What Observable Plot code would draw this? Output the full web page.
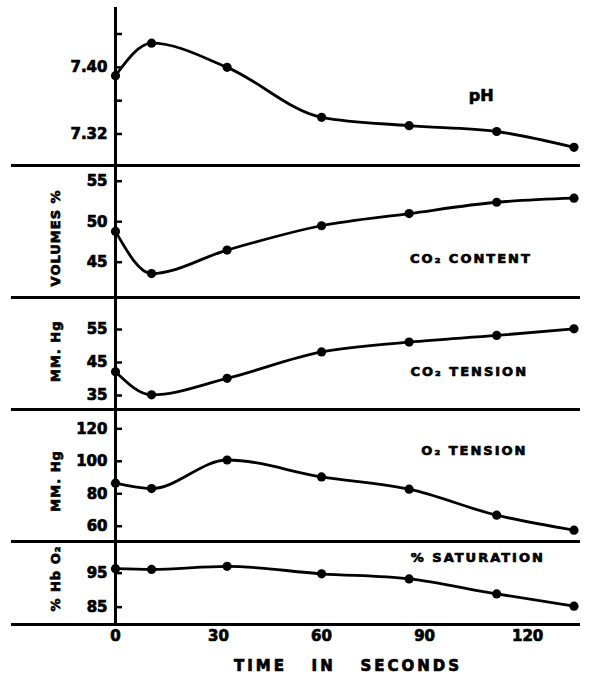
<!DOCTYPE html>
<html><head><meta charset="utf-8">
<script src="https://cdn.jsdelivr.net/npm/d3@7"></script>
<script src="https://cdn.jsdelivr.net/npm/@observablehq/plot@0.6"></script>
<style>
body{margin:0;background:#fff;}
#chart{width:592px;}
#chart svg{display:block;overflow:visible;background:none;}
#chart text{stroke:black;stroke-width:0.7px;}
</style></head><body><div id="chart"></div>
<script>
// Time points (seconds)
const times = [0, 10.5, 32.5, 60, 85.5, 111, 133.5];
// Series values
const ph = [7.39, 7.429, 7.400, 7.340, 7.330, 7.323, 7.304];
const co2Content = [48.8, 43.6, 46.5, 49.5, 51.0, 52.4, 52.9];
const co2Tension = [42.2, 35.2, 40.2, 48.2, 51.2, 53.2, 55.2];
const o2Tension = [86.5, 83.2, 100.8, 90.4, 82.8, 66.8, 57.6];
const saturation = [96.3, 96.1, 97.0, 94.8, 93.3, 88.9, 85.3];
// Ticks and labels
const timeTicks = [0, 30, 60, 90, 120];
const phTicks = [7.32, 7.36, 7.40, 7.44];
const phTickLabels = ["7.32", "", "7.40", ""];
const co2ContentTicks = [45, 50, 55];
const co2TensionTicks = [35, 45, 55];
const o2TensionTicks = [60, 80, 100, 120];
const saturationTicks = [85, 95];
const panelNames = ["pH", "CO\u2082 CONTENT", "CO\u2082 TENSION", "O\u2082 TENSION", "% SATURATION"];
const yLabels = ["", "VOLUMES %", "MM. Hg", "MM. Hg", "% Hb O\u2082"];
const xLabel = "TIME   IN   SECONDS";

const XMAX = 135.4, XLEFT = -30.3;
const font = "'DejaVu Sans', sans-serif";

const panels = [
  {values: ph, domain: [7.2822, 7.4718], height: 165, mt: 7, mb: 0, ticks: phTicks, labels: phTickLabels,
   name: panelNames[0], nameAt: [106.5, 7.366], nameSize: 16, yLabel: yLabels[0], yLabelAt: 7.38},
  {values: co2Content, domain: [40.64, 56.94], height: 132, mt: 0, mb: 0, ticks: co2ContentTicks, labels: co2ContentTicks.map(String),
   name: panelNames[1], nameAt: [103.5, 45.46], yLabel: yLabels[1], yLabelAt: 48.0},
  {values: co2Tension, domain: [30.76, 64.7], height: 112, mt: 0, mb: 0, ticks: co2TensionTicks, labels: co2TensionTicks.map(String),
   name: panelNames[2], nameAt: [103.0, 42.06], yLabel: yLabels[2], yLabelAt: 48.4},
  {values: o2Tension, domain: [50.6, 131.9], height: 132, mt: 0, mb: 0, ticks: o2TensionTicks, labels: o2TensionTicks.map(String),
   name: panelNames[3], nameAt: [104.5, 106.3], yLabel: yLabels[3], yLabelAt: 87.9},
  {values: saturation, domain: [79.9, 104.3], height: 140, mt: 0, mb: 57, ticks: saturationTicks, labels: saturationTicks.map(String),
   name: panelNames[4], nameAt: [105.5, 99.4], yLabel: yLabels[4], yLabelAt: 93.4, last: true}
];

const chart = document.getElementById("chart");
for (const p of panels) {
  const data = times.map((t, i) => ({t, v: p.values[i]}));
  const lab = new Map(p.ticks.map((t, i) => [t, p.labels[i]]));
  const marks = [
    Plot.ruleY([p.domain[0]], {x1: XLEFT, x2: XMAX, strokeWidth: 3}),
    Plot.ruleX([0], {strokeWidth: 3}),
    Plot.axisY(p.ticks, {tickSize: -7, tickPadding: 15, strokeWidth: 2.5, tickFormat: d => lab.get(d) ?? "", label: null, fontSize: 15, fontWeight: "bold"}),
    Plot.line(data, {x: "t", y: "v", curve: "monotone-x", strokeWidth: 2.8}),
    Plot.dot(data, {x: "t", y: "v", r: 4.6, fill: "black", stroke: "none"}),
    Plot.text([p.name], {x: p.nameAt[0], y: p.nameAt[1], fontSize: p.nameSize || 13, fontWeight: "bold"})
  ];
  if (p.yLabel) marks.push(Plot.text([p.yLabel], {x: -17.5, y: p.yLabelAt, rotate: -90, fontSize: 13, fontWeight: "bold"}));
  if (p.last) {
    marks.push(Plot.axisX(timeTicks, {tickSize: 0, tickPadding: 6, label: null, fontSize: 15, fontWeight: "bold"}));
    marks.push(Plot.text([xLabel], {frameAnchor: "bottom", dy: 46, fontSize: 15, fontWeight: "bold"}));
  }
  const svg = Plot.plot({
    width: 592, height: p.height,
    marginLeft: 115, marginRight: 12, marginTop: p.mt, marginBottom: p.mb,
    style: {fontFamily: font, overflow: "visible", background: "none", color: "black"},
    x: {domain: [0, XMAX], axis: null},
    y: {domain: p.domain, axis: null},
    marks
  });
  chart.appendChild(svg);
}
// letter spacing for lettered captions
d3.select(chart).selectAll("text").each(function() {
  const s = this.textContent;
  if (panelNames.includes(s) && s !== "pH") d3.select(this).style("letter-spacing", "2px");
  if (yLabels.includes(s) && s) d3.select(this).style("letter-spacing", "1px");
  if (s === xLabel) d3.select(this).style("letter-spacing", "3px").style("white-space", "pre");
});
</script></body></html>
